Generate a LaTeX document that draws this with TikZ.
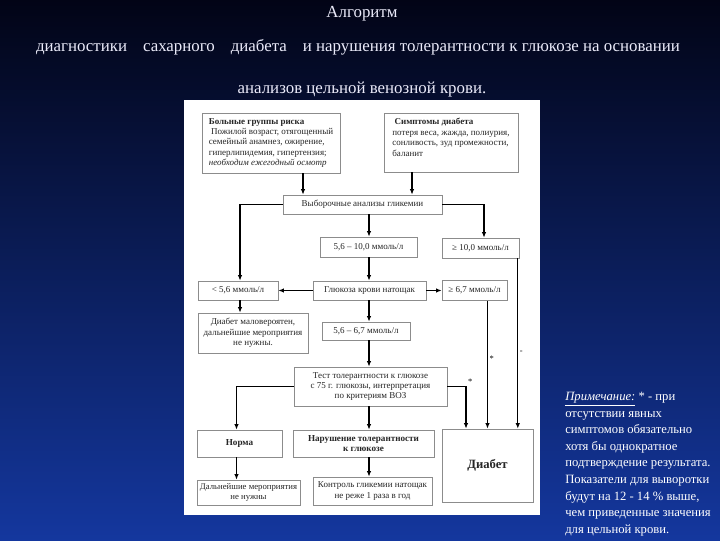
\documentclass[tikz,border=0pt]{standalone}
\usepackage{fontspec}
\setmainfont{Liberation Serif}
\usetikzlibrary{arrows.meta,calc,positioning}

\definecolor{bgtop}{RGB}{2,4,22}
\definecolor{bgbot}{RGB}{20,55,158}
\definecolor{titlecol}{RGB}{235,235,250}

\begin{document}
\begin{tikzpicture}[x=0.025cm,y=-0.025cm,
    box/.style={draw=black!45, line width=0.4pt, fill=white, text=black!85,
      font=\fontsize{6.4}{7.4}\selectfont, align=center, inner sep=1.5pt},
    arr/.style={-{Latex[length=4pt,width=3.2pt]}, line width=0.9pt},
    ttl/.style={text=titlecol, font=\fontsize{12}{14}\selectfont},
    star/.style={font=\fontsize{6}{7}\selectfont, inner sep=1pt}]
  % background and panel
  \shade[top color=bgtop, bottom color=bgbot] (0,0) rectangle (720,540);
  \useasboundingbox (0,0) rectangle (720,540);
  \fill[white] (184,100) rectangle (540,515);

  % title
  \node[ttl] (t1) at (362,14) {Алгоритм};
  \node[ttl] (t2) at (358,47) {диагностики\hspace{0.7em} сахарного\hspace{0.7em} диабета\hspace{0.7em} и нарушения толерантности к глюкозе на основании};
  \node[ttl] (t3) at (362,90) {анализов цельной венозной крови.};

  % top row
  \node[box, align=left, minimum width=3.45cm, minimum height=1.5cm] (risk) at (271,143)
    {\textbf{Больные группы риска}\\ \ Пожилой возраст, отягощенный\\ семейный анамнез, ожирение,\\ гиперлипидемия, гипертензия;\\ \textit{необходим ежегодный осмотр}};
  \node[box, align=left, minimum width=3.35cm, minimum height=1.475cm] (sympt) at (451,142.5)
    {\ \textbf{Симптомы диабета}\\ потеря веса, жажда, полиурия,\\ сонливость, зуд промежности,\\ баланит\\ \mbox{}};
  \node[box, minimum width=3.975cm, minimum height=0.475cm] (screen) at (362.5,204.5) {Выборочные анализы гликемии};

  % middle column
  \coordinate (col) at (369,0);
  \node[box, minimum width=2.425cm, minimum height=0.5cm] (mid1) at (368.5,247) {5,6 -- 10,0 ммоль/л};
  \node[box, minimum width=1.925cm, minimum height=0.5cm] (hi10) at (480.5,248) {≥ 10,0 ммоль/л};
  \node[box, minimum width=2.825cm, minimum height=0.475cm] (fast) at (369.5,290.5) {Глюкоза крови натощак};
  \node[box, minimum width=2cm, minimum height=0.475cm] (lo) at (238,290.5) {< 5,6 ммоль/л};
  \node[box, minimum width=1.625cm, minimum height=0.5cm] (hi67) at (474.5,290.5) {≥ 6,7 ммоль/л};
  \node[box, minimum width=2.75cm, minimum height=1cm] (unlik) at (253,333)
    {Диабет маловероятен,\\ дальнейшие мероприятия\\ не нужны.};
  \node[box, minimum width=2.2cm, minimum height=0.45cm] (mid2) at (366,331) {5,6 -- 6,7 ммоль/л};
  \node[box, minimum width=3.825cm, minimum height=0.975cm] (ogtt) at (370.5,386.5)
    {Тест толерантности к глюкозе\\ с 75 г. глюкозы, интерпретация\\ по критериям ВОЗ};

  % bottom row
  \node[box, font=\fontsize{6.5}{7.6}\selectfont\bfseries, minimum width=2.125cm, minimum height=0.675cm] (norm) at (239.5,443.5) {Норма};
  \node[box, font=\fontsize{6.5}{7.6}\selectfont\bfseries, minimum width=3.525cm, minimum height=0.675cm] (igt) at (363.5,443.5)
    {Нарушение толерантности\\ к глюкозе};
  \node[box, font=\fontsize{9}{10}\selectfont\bfseries, minimum width=2.275cm, minimum height=1.825cm] (dm) at (487.5,465.5) {Диабет};
  \node[box, font=\fontsize{6.2}{7.2}\selectfont, minimum width=2.575cm, minimum height=0.625cm] (nofur) at (248.5,492.5)
    {Дальнейшие мероприятия\\ не нужны};
  \node[box, minimum width=2.975cm, minimum height=0.7cm] (ctrl) at (372.5,491)
    {Контроль гликемии натощак\\ не реже 1 раза в год};

  % connector start points
  \coordinate (rs) at ($(risk.south)+(32,0)$);
  \coordinate (ss) at ($(sympt.south)+(-39,0)$);
  \coordinate (ls) at ($(lo.south)+(2,0)$);
  \coordinate (ns) at ($(norm.south)+(-3,0)$);
  \coordinate (hs) at ($(hi10.south east)+(-1.5,0)$);
  \coordinate (dn) at ($(dm.north)+(-21.5,0)$);

  % connectors
  \draw[arr] (rs) -- (rs |- screen.north);
  \draw[arr] (ss) -- (ss |- screen.north);
  \draw[arr] (screen.west) -| ($(lo.north)+(2,0)$);
  \draw[arr] (screen.east) -| ($(hi10.north)+(3.5,0)$);
  \draw[arr] (screen.south -| col) -- (mid1.north -| col);
  \draw[arr] (mid1.south -| col) -- (fast.north -| col);
  \draw[arr] (fast.west) -- (lo.east);
  \draw[arr] (fast.east) -- (hi67.west);
  \draw[arr] (ls) -- (ls |- unlik.north);
  \draw[arr] (fast.south -| col) -- (mid2.north -| col);
  \draw[arr] (mid2.south -| col) -- (ogtt.north -| col);
  \draw[arr] (ogtt.west) -| ($(norm.north)+(-3,0)$);
  \draw[arr] (ogtt.south -| col) -- (igt.north -| col);
  \draw[arr] (ns) -- (ns |- nofur.north);
  \draw[arr] (igt.south -| col) -- (ctrl.north -| col);
  \draw[arr] (ogtt.east) -| (dn) node[star, pos=0.5, above right] {*};
  \draw[arr] (dm.north |- hi67.south) -- (dm.north) node[star, pos=0.45, right] {*};
  \draw[arr] (hs) -- (hs |- dm.north) node[star, pos=0.55, right] {-};

  % note
  \node[text=white, anchor=north west, align=left, inner sep=0pt,
    font=\fontsize{9}{11.8}\selectfont] (note) at (565,392)
    {\underline{\textit{Примечание:}} * - при\\ отсутствии явных\\ симптомов обязательно\\ хотя бы однократное\\ подтверждение результата.\\ Показатели для выворотки\\ будут на 12 - 14 \% выше,\\ чем приведенные значения\\ для цельной крови.};
\end{tikzpicture}
\end{document}
